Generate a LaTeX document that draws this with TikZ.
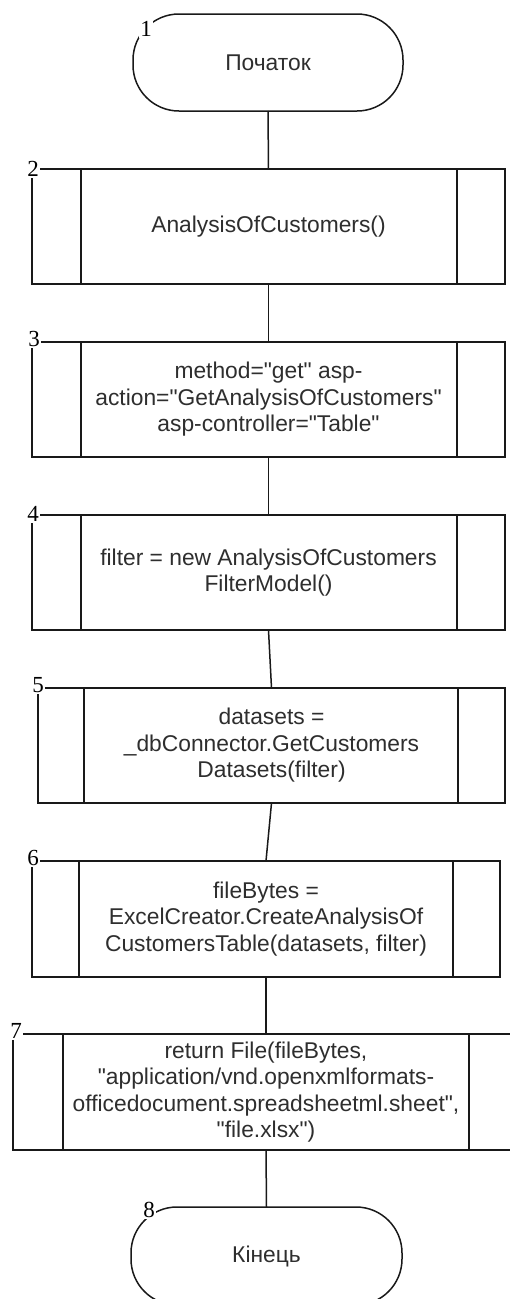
\documentclass[tikz,border=0pt]{standalone}
\usepackage{fontspec}
\newfontfamily\txtfont{Liberation Sans}
\newfontfamily\numfont{Liberation Serif}
\begin{document}
\begin{tikzpicture}[x=1pt,y=-1pt]
\tikzset{
  line/.style={draw=black!90, line width=1.5pt},
  boxtext/.style={align=center, font=\txtfont\fontsize{22.8}{26.5}\selectfont, text=black!82, inner sep=0pt, outer sep=0pt},
  proc/.style={line, boxtext, rectangle},
  term/.style={line, boxtext, rectangle, rounded corners=46pt},
  num/.style={fill=white, font=\numfont\fontsize{23}{23}\selectfont, inner sep=1pt, text height=15pt, text depth=0pt},
  link/.style={line}
}
\clip (0,0) rectangle (510,1299);
\fill[white] (0,0) rectangle (510,1299);

\node[term, minimum width=270pt, minimum height=97pt] (t1) at (268,62.5) {Початок};
\node[proc, minimum width=473pt, minimum height=115pt] (b2) at (268.5,226.5) {AnalysisOfCustomers()};
\node[proc, minimum width=473pt, minimum height=115pt] (b3) at (268.5,399.5) {method="get" asp-\\action="GetAnalysisOfCustomers"\\asp-controller="Table"};
\node[proc, minimum width=473pt, minimum height=115pt] (b4) at (268.5,572.5) {filter = new AnalysisOfCustomers\\FilterModel()};
\node[proc, minimum width=467pt, minimum height=115pt] (b5) at (271.5,745.5) {datasets =\\\_dbConnector.GetCustomers\\Datasets(filter)};
\node[proc, minimum width=468pt, minimum height=116pt] (b6) at (266,919) {fileBytes =\\ExcelCreator.CreateAnalysisOf\\CustomersTable(datasets, filter)};
\node[proc, minimum width=506pt, minimum height=116pt] (b7) at (266,1092) {return File(fileBytes,\\"application/vnd.openxmlformats-\\officedocument.spreadsheetml.sheet",\\"file.xlsx")};
\node[term, minimum width=271pt, minimum height=98pt] (t8) at (266.5,1256) {Кінець};

% inner sub-process lines
\foreach \n/\l/\r in {b2/49/48, b3/49/48, b4/49/48, b5/46/47, b6/47/47, b7/50/50}{
  \draw[line] ([xshift=\l pt]\n.north west) -- ([xshift=\l pt]\n.south west);
  \draw[line] ([xshift=-\r pt]\n.north east) -- ([xshift=-\r pt]\n.south east);
}

% connectors
\draw[link] (t1.south) -- (b2.north);
\draw[link] (b2.south) -- (b3.north);
\draw[link] (b3.south) -- (b4.north);
\draw[link] (b4.south) -- (b5.north);
\draw[link] (b5.south) -- (b6.north);
\draw[link] (b6.south) -- (b7.north);
\draw[link] (b7.south) -- (t8.north);

% numbers
\node[num] (n1) at (146,29) {1};
\node[num] (n2) at (33,169) {2};
\node[num] (n3) at (34,339) {3};
\node[num] (n4) at (33,514) {4};
\node[num] (n5) at (38,685) {5};
\node[num] (n6) at (33,858) {6};
\node[num] (n7) at (16,1031) {7};
\node[num] (n8) at (149,1210) {8};
\end{tikzpicture}
\end{document}
